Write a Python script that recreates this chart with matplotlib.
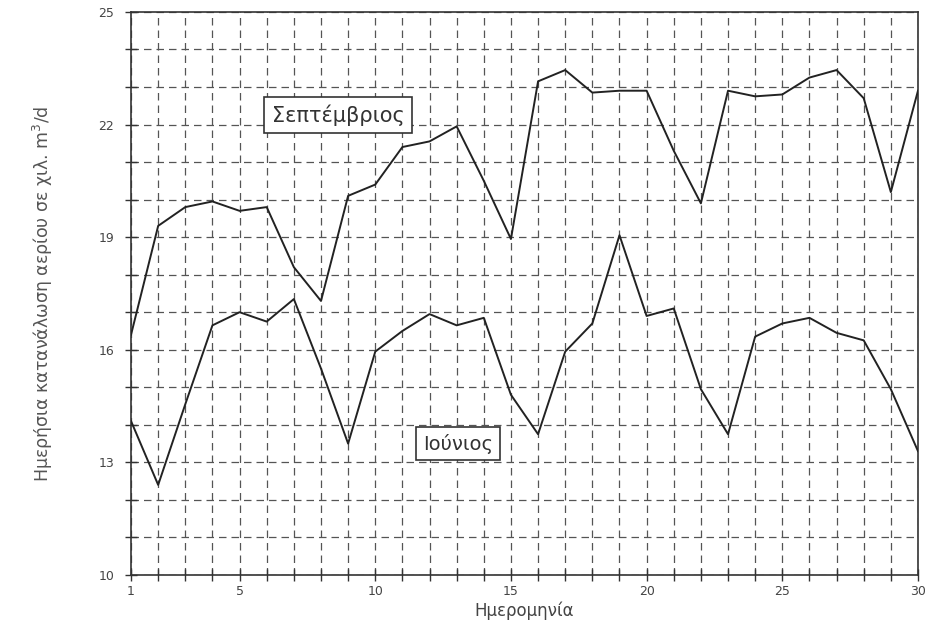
import matplotlib.pyplot as plt
import numpy as np

# days of the month
days = list(range(1, 31))

# daily gas consumption (thousand m3/d)
september = [16.4, 19.3, 19.8, 19.95, 19.7, 19.8, 18.2, 17.3, 20.1, 20.4,
             21.4, 21.55, 21.95, 20.5, 18.95, 23.15, 23.45, 22.85, 22.9, 22.9,
             21.3, 19.9, 22.9, 22.75, 22.8, 23.25, 23.45, 22.7, 20.2, 22.9]
june = [14.1, 12.4, 14.55, 16.65, 17.0, 16.75, 17.35, 15.5, 13.5, 15.95,
        16.5, 16.95, 16.65, 16.85, 14.8, 13.75, 15.95, 16.7, 19.05, 16.9,
        17.1, 14.95, 13.75, 16.35, 16.7, 16.85, 16.45, 16.25, 14.95, 13.3]

x_ticks = [1, 5, 10, 15, 20, 25, 30]
y_ticks = [10, 13, 16, 19, 22, 25]

plt.rcParams['font.family'] = ['DejaVu Sans']

fig = plt.figure(figsize=(9.28, 6.32), dpi=100)
ax = fig.add_axes([0.1412, 0.0902, 0.848, 0.891])

# dashed grid at every unit
for d in days:
    ax.axvline(d, color='#555555', lw=0.9, ls=(0, (6, 4)), zorder=1)
for v in range(10, 26):
    ax.axhline(v, color='#555555', lw=0.9, ls=(0, (6, 4)), zorder=1)

ax.plot(days, september, color='#222222', lw=1.4, zorder=3)
ax.plot(days, june, color='#222222', lw=1.4, zorder=3)

ax.set_xlim(1, 30)
ax.set_ylim(10, 25)
ax.set_xticks(x_ticks)
ax.set_xticks(days, minor=True)
ax.set_yticks(y_ticks)
ax.set_yticks(range(10, 26), minor=True)
ax.tick_params(axis='both', which='both', direction='inout', length=8, width=1.0,
               colors='#333333', labelsize=9, labelcolor='#444444')
ax.tick_params(axis='y', pad=8)
for s in ax.spines.values():
    s.set_color('#333333')
    s.set_linewidth(1.2)

ax.set_xlabel('Ημερομηνία', fontsize=12, color='#444444', labelpad=2)
ax.set_ylabel('Ημερήσια κατανάλωση αερίου σε χιλ. m$^3$/d', fontsize=12.5,
              color='#555555', labelpad=31)

box = dict(boxstyle='square,pad=0.35', fc='white', ec='#333333', lw=1.2)
ax.text(8.63, 22.25, 'Σεπτέμβριος', ha='center', va='center', fontsize=15,
        color='#333333', bbox=box, zorder=4)
ax.text(13.05, 13.5, 'Ιούνιος', ha='center', va='center', fontsize=14,
        color='#333333', bbox=box, zorder=4)

fig.savefig('out.png', dpi=100)
